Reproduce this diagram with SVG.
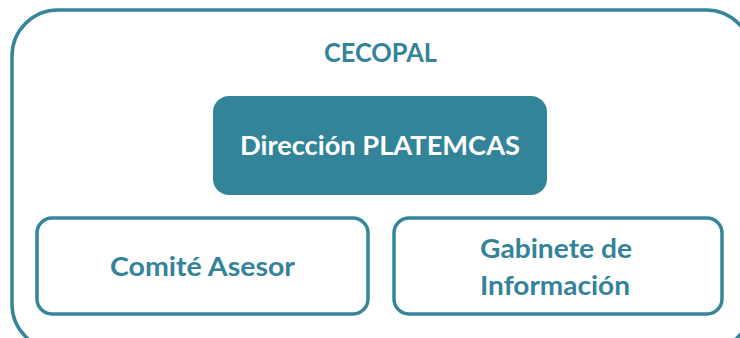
<svg xmlns="http://www.w3.org/2000/svg" width="740" height="338" viewBox="0 0 740 338">
<style>
.box{fill:#ffffff;stroke:#35869b;stroke-width:3.5}
.t{font-family:Lato,"Open Sans","Liberation Sans",sans-serif;font-weight:bold;fill:#34839a;text-anchor:middle;font-size:27px}
.w{fill:#ffffff}
</style>
<rect width="740" height="338" fill="#ffffff"/>
<g id="cecopal">
<rect class="box" x="12" y="10" width="740" height="340" rx="46" ry="46"/>
<text class="t" x="380.5" y="62" textLength="113" lengthAdjust="spacingAndGlyphs">CECOPAL</text>
</g>
<g id="connectors"></g>
<g id="direccion">
<rect x="213" y="96" width="334" height="99" rx="16" ry="16" fill="#348499"/>
<text class="t w" x="380" y="155" textLength="280" lengthAdjust="spacingAndGlyphs">Dirección PLATEMCAS</text>
</g>
<g id="comite">
<rect class="box" x="37" y="218" width="331" height="96" rx="15" ry="15"/>
<text class="t" x="202.5" y="276" textLength="185" lengthAdjust="spacingAndGlyphs">Comité Asesor</text>
</g>
<g id="gabinete">
<rect class="box" x="394" y="218" width="328" height="96" rx="15" ry="15"/>
<text class="t" x="556" y="258" textLength="152" lengthAdjust="spacingAndGlyphs">Gabinete de</text>
<text class="t" x="555" y="295" textLength="150" lengthAdjust="spacingAndGlyphs">Información</text>
</g>
</svg>
